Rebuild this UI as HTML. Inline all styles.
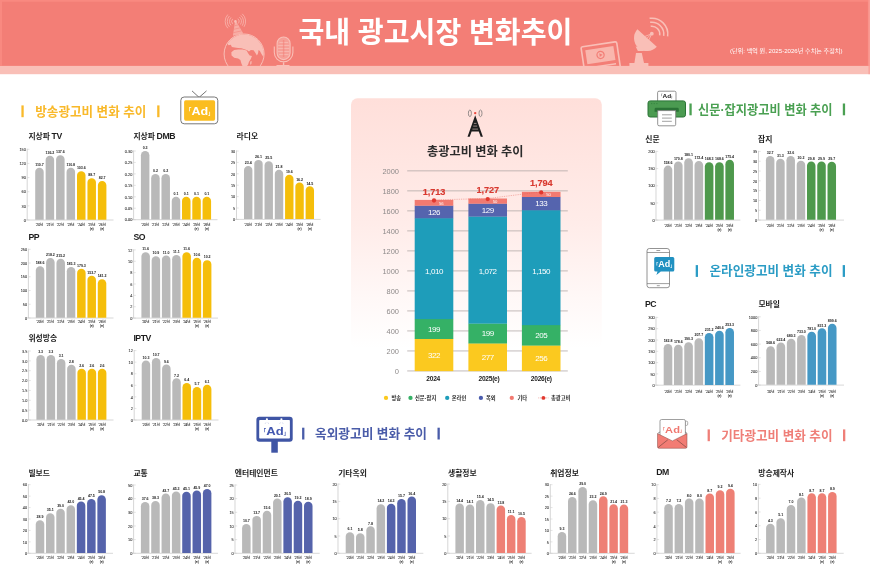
<!DOCTYPE html>
<html lang="ko">
<head>
<meta charset="utf-8">
<title>국내 광고시장 변화추이</title>
<style>
html,body{margin:0;padding:0;background:#fff;}
body{width:870px;height:574px;overflow:hidden;font-family:"Liberation Sans","Noto Sans CJK KR",sans-serif;}
svg{display:block;font-family:"Liberation Sans","Noto Sans CJK KR",sans-serif;}
.ct{font-size:7.8px;font-weight:700;fill:#1d1d1d;}
.ax{fill:none;stroke:#c4c4c4;stroke-width:.7;}
.bx{fill:none;stroke:#bdbdbd;stroke-width:.6;}
.tk{fill:none;stroke:#c8c8c8;stroke-width:.5;}
.yl{font-size:4.4px;fill:#222;stroke:#222;stroke-width:.05px;}
.vl{font-size:3.6px;font-weight:700;fill:#1a1a1a;text-anchor:middle;letter-spacing:-.05px;}
.xl{font-size:3.5px;fill:#1a1a1a;stroke:#1a1a1a;stroke-width:.06px;text-anchor:middle;letter-spacing:-.12px;}
.st{font-weight:700;}
</style>
</head>
<body>
<svg width="870" height="574" viewBox="0 0 870 574">
<defs>
<linearGradient id="pg" x1="0" y1="0" x2="0" y2="1">
<stop offset="0" stop-color="#ffdfda"/>
<stop offset="0.5" stop-color="#ffece9"/>
<stop offset="0.8" stop-color="#fff8f7"/>
<stop offset="1" stop-color="#ffffff"/>
</linearGradient>
</defs>
<rect width="870" height="574" fill="#fff"/>

<rect x="0" y="0" width="870" height="66" fill="#f37e76"/>
<rect x="0" y="65.9" width="870" height="8.3" fill="#f9bfb7"/>
<path d="M0 0H870V66H867.8V1.8H2V66H0z" fill="#f98980"/>
<rect x="868.4" y="0" width="1.6" height="74.2" fill="#f9a098" fill-opacity=".8"/>
<clipPath id="hc"><rect x="0" y="0" width="870" height="65.9"/></clipPath>
<g clip-path="url(#hc)">
<clipPath id="gc"><circle cx="244.1" cy="54" r="19.6"/></clipPath>
<circle cx="244.1" cy="54" r="20" fill="none" stroke="#f9bfb7" stroke-width="1"/>
<g fill="#f9bfb7" clip-path="url(#gc)">
<path d="M226.8 42.86 L229.07 38.9 L232.46 36.29 L237 34.7 L242.66 33.8 L248.33 34.25 L253.99 36.06 L258.53 39.01 L262.15 43.43 L264.19 48.53 L264.65 53.06 L263.29 56.69 L261.47 53.97 L259.89 51.02 L258.53 49.89 L258.07 53.29 L256.94 55.55 L255.13 52.61 L253.54 50.34 L250.82 49.89 L249.01 51.47 L247.2 50.34 L244.36 49.21 L241.53 48.3 L238.13 48.07 L234.73 47.39 L231.9 46.94 L230.76 44.67 L228.5 45.35z"/>
<path d="M231.33 52.15 L234.16 50.11 L238.13 49.43 L242.66 49.43 L246.63 50.57 L248.1 53.29 L249.69 55.55 L251.95 56.01 L250.82 58.95 L249.01 61.67 L248.1 64.39 L246.74 66.43 L242.66 66.43 L241.3 63.26 L240.4 60.08 L238.13 58.5 L234.16 57.82 L231.56 55.55z"/>
<path d="M250.37 61.56 L251.61 60.99 L251.39 63.94 L250.14 64.73z"/>
</g>
<path d="M235.07 21.1 L235.98 21.1 L243.34 33.57 L232.92 35.84z" fill="#f9bfb7" fill-opacity=".72"/>
<path d="M234.5 25.86 L237.9 24.96M233.94 29.26 L239.94 27.9M233.37 32.66 L241.76 30.85" stroke="#f37e76" stroke-width=".5" fill="none"/>
<circle cx="235.4" cy="21.4" r="1.3" fill="#f9bfb7"/>
<g fill="none" stroke="#f9bfb7" stroke-width="0.7">
<path d="M237.88 18.65A3.7 3.7 0 0 1 238.54 23.36"/>
<path d="M232.65 23.88A3.7 3.7 0 0 1 232.65 18.92"/>
<path d="M239.35 17.02A5.9 5.9 0 0 1 240.4 24.53"/>
<path d="M231.02 25.35A5.9 5.9 0 0 1 231.02 17.45"/>
<path d="M240.82 15.38A8.1 8.1 0 0 1 242.27 25.69"/>
<path d="M229.38 26.82A8.1 8.1 0 0 1 229.38 15.98"/>
<path d="M242.23 13.82A10.2 10.2 0 0 1 244.05 26.81"/>
<path d="M227.82 28.23A10.2 10.2 0 0 1 227.82 14.57"/>
</g>
<g fill="none" stroke="#f9bfb7" stroke-width="1.1">
<rect x="277.1" y="37" width="13" height="22.6" rx="6.5" fill="#f9bfb7" fill-opacity=".5"/>
<path d="M279.4 42.5h8.8M278.2 45.5h11.2M278.2 48.5h11.2M278.2 51.5h11.2M279 54.5h9.6" stroke-width=".7"/>
<path d="M283.6 40v17" stroke="#f37e76" stroke-opacity=".55" stroke-width="1.4"/>
<path d="M274.3 46.5v6a9.3 9.3 0 0 0 18.6 0V46.5"/>
<path d="M283.6 62.2v3.6M276.5 65.6h13" stroke-width="1.4"/>
</g>
<g transform="rotate(-8.5 600 54)" fill="none" stroke="#f9bfb7" stroke-width="1.6">
<rect x="582.2" y="44.2" width="36" height="30" rx="1.6"/>
<rect x="586" y="48" width="28.4" height="14.2" fill="#f9bfb7" fill-opacity=".85" stroke="none"/>
<circle cx="600.4" cy="55" r="3.6" stroke="#f37e76" stroke-width="1.2"/>
<path d="M599.4 53.1l3 1.9-3 1.9z" fill="#f37e76" stroke="none"/>
<path d="M586 66h28.4" stroke-width="1.4"/>
</g>
<g fill="#f9bfb7">
<path d="M637.4 29.2A12.8 12.8 0 0 0 656.8 46.8z"/>
<circle cx="651.8" cy="33.7" r="1.9"/>
<path d="M644 41l7.8-7.3M647 44l4.8-10.3M641 38l10.8-4.3" stroke="#f9bfb7" stroke-width=".8" fill="none"/>
<path d="M635.6 46.5l7.5 1 .8 3.5h-6z"/>
<path d="M636 53h5.8l2.2 10h4.4v4h-19v-4h5z"/>
</g>
<g fill="none" stroke="#f9bfb7" stroke-width="1.5">
<path d="M650.69 26.28A8 8 0 0 1 659.72 35.31"/>
<path d="M650.13 22.32A12 12 0 0 1 663.68 35.87"/>
<path d="M649.57 18.36A16 16 0 0 1 667.64 36.43"/>
</g>
</g>
<text x="298.4" y="43" fill="#fff" font-size="29" font-weight="700" textLength="274" lengthAdjust="spacingAndGlyphs">국내 광고시장 변화추이</text>
<text x="730" y="53.1" fill="#fff" font-size="5.6" textLength="112.5" lengthAdjust="spacingAndGlyphs">(단위: 백억 원, 2025-2026년 수치는 추정치)</text>
<rect x="351" y="98.3" width="250.8" height="250" rx="6.5" fill="url(#pg)"/>
<path d="M475.2 115.2L482.9 136.8H480.7L478.8 131.4H471.6L469.7 136.8H467.5z" fill="#1e1e1e"/>
<path d="M473.9 123.4h2.6M473.2 126.1h4M472.4 129.1h5.6" stroke="#fbdcd7" stroke-width=".55" fill="none"/>
<circle cx="475.2" cy="113.1" r="1.2" fill="#ec4a40"/>
<g fill="none" stroke="#6a6a6a" stroke-width=".7">
<ellipse cx="469.9" cy="113.3" rx="1.5" ry="3.3"/><ellipse cx="480.5" cy="113.3" rx="1.5" ry="3.3"/>
</g>
<text x="427" y="156.2" fill="#2b2b2b" font-size="12.5" font-weight="700" textLength="96.5" lengthAdjust="spacingAndGlyphs">총광고비 변화 추이</text>
<path d="M407.2 370.95H567.8" stroke="#b3aaa8" stroke-width=".8" fill="none"/>
<text x="394.8" y="373.95" font-size="7.9" fill="#8e8a8a" textLength="4.2" lengthAdjust="spacingAndGlyphs">0</text>
<path d="M407.2 350.94H567.8" stroke="#b3aaa8" stroke-width=".8" fill="none"/>
<text x="386.6" y="353.94" font-size="7.9" fill="#8e8a8a" textLength="12.4" lengthAdjust="spacingAndGlyphs">200</text>
<path d="M407.2 330.93H567.8" stroke="#b3aaa8" stroke-width=".8" fill="none"/>
<text x="386.6" y="333.93" font-size="7.9" fill="#8e8a8a" textLength="12.4" lengthAdjust="spacingAndGlyphs">400</text>
<path d="M407.2 310.92H567.8" stroke="#b3aaa8" stroke-width=".8" fill="none"/>
<text x="386.6" y="313.92" font-size="7.9" fill="#8e8a8a" textLength="12.4" lengthAdjust="spacingAndGlyphs">600</text>
<path d="M407.2 290.91H567.8" stroke="#b3aaa8" stroke-width=".8" fill="none"/>
<text x="386.6" y="293.91" font-size="7.9" fill="#8e8a8a" textLength="12.4" lengthAdjust="spacingAndGlyphs">800</text>
<path d="M407.2 270.9H567.8" stroke="#b3aaa8" stroke-width=".8" fill="none"/>
<text x="382.4" y="273.9" font-size="7.9" fill="#8e8a8a" textLength="16.6" lengthAdjust="spacingAndGlyphs">1000</text>
<path d="M407.2 250.89H567.8" stroke="#b3aaa8" stroke-width=".8" fill="none"/>
<text x="382.4" y="253.89" font-size="7.9" fill="#8e8a8a" textLength="16.6" lengthAdjust="spacingAndGlyphs">1200</text>
<path d="M407.2 230.88H567.8" stroke="#b3aaa8" stroke-width=".8" fill="none"/>
<text x="382.4" y="233.88" font-size="7.9" fill="#8e8a8a" textLength="16.6" lengthAdjust="spacingAndGlyphs">1400</text>
<path d="M407.2 210.87H567.8" stroke="#b3aaa8" stroke-width=".8" fill="none"/>
<text x="382.4" y="213.87" font-size="7.9" fill="#8e8a8a" textLength="16.6" lengthAdjust="spacingAndGlyphs">1600</text>
<path d="M407.2 190.86H567.8" stroke="#b3aaa8" stroke-width=".8" fill="none"/>
<text x="382.4" y="193.86" font-size="7.9" fill="#8e8a8a" textLength="16.6" lengthAdjust="spacingAndGlyphs">1800</text>
<path d="M407.2 170.85H567.8" stroke="#b3aaa8" stroke-width=".8" fill="none"/>
<text x="382.4" y="173.85" font-size="7.9" fill="#8e8a8a" textLength="16.6" lengthAdjust="spacingAndGlyphs">2000</text>
<rect x="414.7" y="338.8" width="38.6" height="32.35" fill="#fbc91f"/>
<rect x="414.7" y="318.93" width="38.6" height="20.07" fill="#35b166"/>
<rect x="414.7" y="218.08" width="38.6" height="101.05" fill="#1e9dba"/>
<rect x="414.7" y="205.5" width="38.6" height="12.78" fill="#5564ae"/>
<rect x="414.7" y="199.91" width="38.6" height="5.79" fill="#f27a71"/>
<text x="434" y="357.77" font-size="8" fill="#fff" text-anchor="middle" letter-spacing="-.45">322</text>
<text x="434" y="331.76" font-size="8" fill="#fff" text-anchor="middle" letter-spacing="-.45">199</text>
<text x="434" y="273.8" font-size="8" fill="#fff" text-anchor="middle" letter-spacing="-.45">1,010</text>
<text x="434" y="214.69" font-size="8" fill="#fff" text-anchor="middle" letter-spacing="-.45">126</text>
<text x="441.3" y="204.7" font-size="4.2" fill="#fff" text-anchor="middle">56</text>
<text x="433.2" y="381.4" font-size="6.6" font-weight="700" fill="#1c1c1c" text-anchor="middle" letter-spacing="-.25">2024</text>
<rect x="468.4" y="343.29" width="38.6" height="27.86" fill="#fbc91f"/>
<rect x="468.4" y="323.42" width="38.6" height="20.07" fill="#35b166"/>
<rect x="468.4" y="216.38" width="38.6" height="107.24" fill="#1e9dba"/>
<rect x="468.4" y="203.5" width="38.6" height="13.08" fill="#5564ae"/>
<rect x="468.4" y="198.51" width="38.6" height="5.19" fill="#f27a71"/>
<text x="487.7" y="360.02" font-size="8" fill="#fff" text-anchor="middle" letter-spacing="-.45">277</text>
<text x="487.7" y="336.26" font-size="8" fill="#fff" text-anchor="middle" letter-spacing="-.45">199</text>
<text x="487.7" y="273.8" font-size="8" fill="#fff" text-anchor="middle" letter-spacing="-.45">1,072</text>
<text x="487.7" y="212.84" font-size="8" fill="#fff" text-anchor="middle" letter-spacing="-.45">129</text>
<text x="495" y="203.01" font-size="4.2" fill="#fff" text-anchor="middle">50</text>
<text x="489" y="381.4" font-size="6.6" font-weight="700" fill="#1c1c1c" text-anchor="middle" letter-spacing="-.25">2025(e)</text>
<rect x="521.9" y="345.39" width="38.6" height="25.76" fill="#fbc91f"/>
<rect x="521.9" y="324.92" width="38.6" height="20.67" fill="#35b166"/>
<rect x="521.9" y="210.09" width="38.6" height="115.03" fill="#1e9dba"/>
<rect x="521.9" y="196.81" width="38.6" height="13.48" fill="#5564ae"/>
<rect x="521.9" y="191.82" width="38.6" height="5.19" fill="#f27a71"/>
<text x="541.2" y="361.07" font-size="8" fill="#fff" text-anchor="middle" letter-spacing="-.45">256</text>
<text x="541.2" y="338.05" font-size="8" fill="#fff" text-anchor="middle" letter-spacing="-.45">205</text>
<text x="541.2" y="273.8" font-size="8" fill="#fff" text-anchor="middle" letter-spacing="-.45">1,150</text>
<text x="541.2" y="206.35" font-size="8" fill="#fff" text-anchor="middle" letter-spacing="-.45">133</text>
<text x="548.5" y="196.32" font-size="4.2" fill="#fff" text-anchor="middle">50</text>
<text x="541.3" y="381.4" font-size="6.6" font-weight="700" fill="#1c1c1c" text-anchor="middle" letter-spacing="-.25">2026(e)</text>
<path d="M434 199.91L487.7 198.51L541.2 191.82" stroke="#e2574d" stroke-opacity=".75" stroke-width=".6" stroke-dasharray=".9 .9" fill="none"/>
<circle cx="434" cy="200.51" r="2.15" fill="#e2382e"/>
<text x="434" y="195" font-size="9.2" font-weight="700" fill="#d8382f" text-anchor="middle" letter-spacing="-.12" stroke="#d8382f" stroke-width=".15">1,713</text>
<circle cx="487.7" cy="199.11" r="2.15" fill="#e2382e"/>
<text x="487.7" y="193" font-size="9.2" font-weight="700" fill="#d8382f" text-anchor="middle" letter-spacing="-.12" stroke="#d8382f" stroke-width=".15">1,727</text>
<circle cx="541.2" cy="192.42" r="2.15" fill="#e2382e"/>
<text x="541.2" y="186" font-size="9.2" font-weight="700" fill="#d8382f" text-anchor="middle" letter-spacing="-.12" stroke="#d8382f" stroke-width=".15">1,794</text>
<circle cx="386" cy="397.9" r="2.15" fill="#fbc91f"/>
<text x="391.4" y="399.8" font-size="5.3" font-weight="700" fill="#2a2a2a">방송</text>
<circle cx="410.5" cy="397.9" r="2.15" fill="#35b166"/>
<text x="415" y="399.8" font-size="5.3" font-weight="700" fill="#2a2a2a">신문·잡지</text>
<circle cx="447.2" cy="397.9" r="2.15" fill="#1e9dba"/>
<text x="451.7" y="399.8" font-size="5.3" font-weight="700" fill="#2a2a2a">온라인</text>
<circle cx="480.9" cy="397.9" r="2.15" fill="#4a5cae"/>
<text x="485.9" y="399.8" font-size="5.3" font-weight="700" fill="#2a2a2a">옥외</text>
<circle cx="511.8" cy="397.9" r="2.15" fill="#f27a71"/>
<text x="517.5" y="399.8" font-size="5.3" font-weight="700" fill="#2a2a2a">기타</text>
<path d="M538.4 397.9h10" stroke="#e2574d" stroke-width=".6" stroke-dasharray=".8 .8"/>
<circle cx="543.4" cy="397.9" r="1.9" fill="#e2382e"/>
<text x="550.9" y="399.8" font-size="5.3" font-weight="700" fill="#2a2a2a">총광고비</text>
<rect x="21.4" y="105.4" width="2.3" height="11.8" fill="#f9b92a"/>
<rect x="157.2" y="105.4" width="2.3" height="11.8" fill="#f9b92a"/>
<text class="st" x="35.3" y="115.55" fill="#f9b92a" font-size="13" textLength="111" lengthAdjust="spacingAndGlyphs">방송광고비 변화 추이</text>
<rect x="689.4" y="103.5" width="2.3" height="11.8" fill="#4aa052"/>
<rect x="842.8" y="103.5" width="2.3" height="11.8" fill="#4aa052"/>
<text class="st" x="698" y="113.65" fill="#4aa052" font-size="13" textLength="134.5" lengthAdjust="spacingAndGlyphs">신문·잡지광고비 변화 추이</text>
<rect x="695.7" y="265.1" width="2.3" height="11.8" fill="#2b9cc5"/>
<rect x="842.7" y="265.1" width="2.3" height="11.8" fill="#2b9cc5"/>
<text class="st" x="709.5" y="275.25" fill="#2b9cc5" font-size="13" textLength="123" lengthAdjust="spacingAndGlyphs">온라인광고비 변화 추이</text>
<rect x="302.1" y="427.7" width="2.3" height="11.8" fill="#4a5ca9"/>
<rect x="437.5" y="427.7" width="2.3" height="11.8" fill="#4a5ca9"/>
<text class="st" x="315" y="437.85" fill="#4a5ca9" font-size="13" textLength="112" lengthAdjust="spacingAndGlyphs">옥외광고비 변화 추이</text>
<rect x="707.6" y="429.4" width="2.3" height="11.8" fill="#ef7f78"/>
<rect x="843" y="429.4" width="2.3" height="11.8" fill="#ef7f78"/>
<text class="st" x="721.3" y="439.55" fill="#ef7f78" font-size="13" textLength="111.2" lengthAdjust="spacingAndGlyphs">기타광고비 변화 추이</text>
<g>
<path d="M192 90.9l7.1 6.5 7.4-6.5" fill="none" stroke="#666" stroke-width=".9"/>
<rect x="180.8" y="97" width="37" height="26.8" rx="3.4" fill="#fff" stroke="#6a6a6a" stroke-width=".9"/>
<rect x="184.1" y="100.3" width="31" height="20.4" rx="1.6" fill="#fbbd1f"/>
<text x="191.49" y="114.8" font-weight="700" fill="#fff" font-size="10.5" textLength="16.74" lengthAdjust="spacingAndGlyphs">Ad</text>
<text x="188.39" y="112.41" font-weight="700" fill="#fff" font-size="5.67">｢</text>
<text x="207.98" y="114.59" font-weight="700" fill="#fff" font-size="5.67">｣</text>
</g>
<g>
<rect x="657.6" y="91.2" width="18.4" height="12" rx="1.4" fill="#fff" stroke="#777" stroke-width=".8"/>
<text x="662.64" y="98.1" font-weight="700" fill="#222" font-size="5.5" textLength="8.59" lengthAdjust="spacingAndGlyphs">Ad</text>
<text x="661.01" y="96.85" font-weight="700" fill="#222" font-size="2.97">｢</text>
<text x="671.1" y="97.99" font-weight="700" fill="#222" font-size="2.97">｣</text>
<rect x="648" y="100.9" width="37.5" height="16.1" rx="2.2" fill="#4b9b51" stroke="#2a7336" stroke-width="1"/>
<path d="M651 103.6h1.3M653.6 103.6h1.3M656.2 103.6h1.3" stroke="#2f7d3b" stroke-width=".7"/>
<path d="M654.6 111.8v-2.6a1.4 1.4 0 0 1 1.4-1.4h21.4a1.4 1.4 0 0 1 1.4 1.4v2.6z" fill="#2a7336"/>
<path d="M657.7 110.6h18v13.8a1.4 1.4 0 0 1-1.4 1.4h-15.2a1.4 1.4 0 0 1-1.4-1.4z" fill="#fff" stroke="#777" stroke-width=".8"/>
<path d="M662 114.8h9.8M662 118.1h9.8M662 121.3h9.8" stroke="#8a8a8a" stroke-width=".8"/>
</g>
<g>
<rect x="647" y="248.5" width="22.5" height="39.2" rx="2.4" fill="#fff" stroke="#777" stroke-width=".8"/>
<path d="M647 252.5h22.5M647 283.6h22.5" stroke="#777" stroke-width=".7"/>
<path d="M656.8 250.5h3M657.2 285.7h2.2" stroke="#777" stroke-width=".7" stroke-linecap="round"/>
<path d="M655.7 257.1h17.1a1.5 1.5 0 0 1 1.5 1.5v11.5a1.5 1.5 0 0 1-1.5 1.5h-12l-4.4 3.3 1.1-3.3h-1.8a1.5 1.5 0 0 1-1.5-1.5v-11.5a1.5 1.5 0 0 1 1.5-1.5z" fill="#2191c1"/>
<text x="658.37" y="267.4" font-weight="700" fill="#fff" font-size="8.2" textLength="12.02" lengthAdjust="spacingAndGlyphs">Ad</text>
<text x="655.94" y="265.53" font-weight="700" fill="#fff" font-size="4.43">｢</text>
<text x="670.25" y="267.24" font-weight="700" fill="#fff" font-size="4.43">｣</text>
</g>
<g>
<rect x="271.3" y="440" width="6.5" height="12.7" fill="#3f55a5"/>
<rect x="256.4" y="416.8" width="36.3" height="25" rx="3" fill="#3f55a5"/>
<rect x="259.2" y="419.9" width="30.7" height="18.7" rx=".8" fill="#fff"/>
<circle cx="266.9" cy="419.3" r="1.1" fill="#fff"/><circle cx="281.4" cy="419.3" r="1.1" fill="#fff"/>
<path d="M265 424l1-1.6M268.8 424l-1-1.6M279.5 424l1-1.6M283.3 424l-1-1.6" stroke="#b8bfe0" stroke-width=".5"/>
<text x="266.37" y="435.1" font-weight="700" fill="#4358b0" font-size="10.5" textLength="17.39" lengthAdjust="spacingAndGlyphs">Ad</text>
<text x="263.29" y="432.71" font-weight="700" fill="#4358b0" font-size="5.67">｢</text>
<text x="283.48" y="434.89" font-weight="700" fill="#4358b0" font-size="5.67">｣</text>
</g>
<g>
<path d="M685.2 421.2h1.3a1.2 1.2 0 0 1 1.2 1.2v1.8a1.2 1.2 0 0 1-1.2 1.2h-1.3z" fill="#fff" stroke="#888" stroke-width=".7"/>
<path d="M661.6 419.5h22.2a1.6 1.6 0 0 1 1.6 1.6v22h-25.4v-22a1.6 1.6 0 0 1 1.6-1.6z" fill="#fff" stroke="#888" stroke-width=".8"/>
<text x="665.12" y="432.6" font-weight="700" fill="#f0776f" font-size="9.1" textLength="14.81" lengthAdjust="spacingAndGlyphs">Ad</text>
<text x="662.44" y="430.53" font-weight="700" fill="#f0776f" font-size="4.91">｢</text>
<text x="679.7" y="432.42" font-weight="700" fill="#f0776f" font-size="4.91">｣</text>
<path d="M657.5 433.6l14.9 7.3 14.6-7.3v13.2a1.5 1.5 0 0 1-1.5 1.5h-26.5a1.5 1.5 0 0 1-1.5-1.5z" fill="#f27c74" stroke="#8a4a44" stroke-width=".5" stroke-linejoin="round"/>
<path d="M658.2 447.4l9.6-7.6M686.4 447.4l-9.6-7.6" stroke="#5a3a36" stroke-width=".55" fill="none"/>
<path d="M657.7 433.4l2.4-1.5M687.2 433.4l-2-1.4" stroke="#555" stroke-width=".6"/>
</g>
<g>
<text class="ct" x="28.4" y="139">지상파 <tspan font-size="8.7" letter-spacing="-.45" dx="-.5">TV</tspan></text>
<path class="ax" d="M27.2 148.7V220"/>
<path class="bx" d="M25.7 220H113.5"/>
<path class="tk" d="M27.2 220h2.2M27.2 205.86h2.2M27.2 191.72h2.2M27.2 177.58h2.2M27.2 163.44h2.2M27.2 149.3h2.2"/>
<text class="yl" x="23.75" y="221.7" textLength="2.15" lengthAdjust="spacingAndGlyphs">0</text>
<text class="yl" x="21.59" y="207.56" textLength="4.31" lengthAdjust="spacingAndGlyphs">30</text>
<text class="yl" x="21.59" y="193.42" textLength="4.31" lengthAdjust="spacingAndGlyphs">60</text>
<text class="yl" x="21.59" y="179.28" textLength="4.31" lengthAdjust="spacingAndGlyphs">90</text>
<text class="yl" x="19.44" y="165.14" textLength="6.46" lengthAdjust="spacingAndGlyphs">120</text>
<text class="yl" x="19.44" y="151" textLength="6.46" lengthAdjust="spacingAndGlyphs">150</text>
<path fill="#b9b9b9" d="M35.2 219.7V172.07a4.25 4.25 0 0 1 8.5 0V219.7z"/>
<text class="vl" x="39.45" y="166.02">110.7</text>
<text class="xl" x="39.45" y="226">'20년</text>
<path fill="#b9b9b9" d="M45.65 219.7V160.05a4.25 4.25 0 0 1 8.5 0V219.7z"/>
<text class="vl" x="49.9" y="154">136.2</text>
<text class="xl" x="49.9" y="226">'21년</text>
<path fill="#b9b9b9" d="M56.1 219.7V159.39a4.25 4.25 0 0 1 8.5 0V219.7z"/>
<text class="vl" x="60.35" y="153.34">137.6</text>
<text class="xl" x="60.35" y="226">'22년</text>
<path fill="#b9b9b9" d="M66.55 219.7V172.03a4.25 4.25 0 0 1 8.5 0V219.7z"/>
<text class="vl" x="70.8" y="165.98">110.8</text>
<text class="xl" x="70.8" y="226">'23년</text>
<path fill="#f5be0a" d="M77 219.7V175.42a4.25 4.25 0 0 1 8.5 0V219.7z"/>
<text class="vl" x="81.25" y="169.37">103.6</text>
<text class="xl" x="81.25" y="226">'24년</text>
<path fill="#f5be0a" d="M87.45 219.7V182.44a4.25 4.25 0 0 1 8.5 0V219.7z"/>
<text class="vl" x="91.7" y="176.39">88.7</text>
<text class="xl" x="91.7" y="226">'25년</text>
<text class="xl" x="91.7" y="230.2">(e)</text>
<path fill="#f5be0a" d="M97.9 219.7V185.27a4.25 4.25 0 0 1 8.5 0V219.7z"/>
<text class="vl" x="102.15" y="179.22">82.7</text>
<text class="xl" x="102.15" y="226">'26년</text>
<text class="xl" x="102.15" y="230.2">(e)</text>
</g>
<g>
<text class="ct" x="133.4" y="139">지상파 <tspan font-size="8.7" letter-spacing="-.45" dx="-.5">DMB</tspan></text>
<path class="ax" d="M133.6 150.4V219.7"/>
<path class="bx" d="M132.1 219.7H217.5"/>
<path class="tk" d="M133.6 219.7h2.2M133.6 208.25h2.2M133.6 196.8h2.2M133.6 185.35h2.2M133.6 173.9h2.2M133.6 162.45h2.2M133.6 151h2.2"/>
<text class="yl" x="124.77" y="221.4" textLength="7.53" lengthAdjust="spacingAndGlyphs">0.00</text>
<text class="yl" x="124.77" y="209.95" textLength="7.53" lengthAdjust="spacingAndGlyphs">0.05</text>
<text class="yl" x="124.77" y="198.5" textLength="7.53" lengthAdjust="spacingAndGlyphs">0.10</text>
<text class="yl" x="124.77" y="187.05" textLength="7.53" lengthAdjust="spacingAndGlyphs">0.15</text>
<text class="yl" x="124.77" y="175.6" textLength="7.53" lengthAdjust="spacingAndGlyphs">0.20</text>
<text class="yl" x="124.77" y="164.15" textLength="7.53" lengthAdjust="spacingAndGlyphs">0.25</text>
<text class="yl" x="124.77" y="152.7" textLength="7.53" lengthAdjust="spacingAndGlyphs">0.30</text>
<path fill="#b9b9b9" d="M140.9 219.4V155.25a4.25 4.25 0 0 1 8.5 0V219.4z"/>
<text class="vl" x="145.15" y="149.2">0.3</text>
<text class="xl" x="145.15" y="226">'20년</text>
<path fill="#b9b9b9" d="M151.18 219.4V178.15a4.25 4.25 0 0 1 8.5 0V219.4z"/>
<text class="vl" x="155.43" y="172.1">0.2</text>
<text class="xl" x="155.43" y="226">'21년</text>
<path fill="#b9b9b9" d="M161.46 219.4V178.15a4.25 4.25 0 0 1 8.5 0V219.4z"/>
<text class="vl" x="165.71" y="172.1">0.2</text>
<text class="xl" x="165.71" y="226">'22년</text>
<path fill="#b9b9b9" d="M171.74 219.4V201.05a4.25 4.25 0 0 1 8.5 0V219.4z"/>
<text class="vl" x="175.99" y="195">0.1</text>
<text class="xl" x="175.99" y="226">'23년</text>
<path fill="#f5be0a" d="M182.02 219.4V201.05a4.25 4.25 0 0 1 8.5 0V219.4z"/>
<text class="vl" x="186.27" y="195">0.1</text>
<text class="xl" x="186.27" y="226">'24년</text>
<path fill="#f5be0a" d="M192.3 219.4V201.05a4.25 4.25 0 0 1 8.5 0V219.4z"/>
<text class="vl" x="196.55" y="195">0.1</text>
<text class="xl" x="196.55" y="226">'25년</text>
<text class="xl" x="196.55" y="230.2">(e)</text>
<path fill="#f5be0a" d="M202.58 219.4V201.05a4.25 4.25 0 0 1 8.5 0V219.4z"/>
<text class="vl" x="206.83" y="195">0.1</text>
<text class="xl" x="206.83" y="226">'26년</text>
<text class="xl" x="206.83" y="230.2">(e)</text>
</g>
<g>
<text class="ct" x="236.6" y="139">라디오</text>
<path class="ax" d="M236.5 150.4V219.4"/>
<path class="bx" d="M235 219.4H320.6"/>
<path class="tk" d="M236.5 219.4h2.2M236.5 208h2.2M236.5 196.6h2.2M236.5 185.2h2.2M236.5 173.8h2.2M236.5 162.4h2.2M236.5 151h2.2"/>
<text class="yl" x="233.05" y="221.1" textLength="2.15" lengthAdjust="spacingAndGlyphs">0</text>
<text class="yl" x="233.05" y="209.7" textLength="2.15" lengthAdjust="spacingAndGlyphs">5</text>
<text class="yl" x="230.89" y="198.3" textLength="4.31" lengthAdjust="spacingAndGlyphs">10</text>
<text class="yl" x="230.89" y="186.9" textLength="4.31" lengthAdjust="spacingAndGlyphs">15</text>
<text class="yl" x="230.89" y="175.5" textLength="4.31" lengthAdjust="spacingAndGlyphs">20</text>
<text class="yl" x="230.89" y="164.1" textLength="4.31" lengthAdjust="spacingAndGlyphs">25</text>
<text class="yl" x="230.89" y="152.7" textLength="4.31" lengthAdjust="spacingAndGlyphs">30</text>
<path fill="#b9b9b9" d="M244 219.1V170.25a4.2 4.2 0 0 1 8.4 0V219.1z"/>
<text class="vl" x="248.2" y="164.25">23.4</text>
<text class="xl" x="248.2" y="226">'20년</text>
<path fill="#b9b9b9" d="M254.27 219.1V164.09a4.2 4.2 0 0 1 8.4 0V219.1z"/>
<text class="vl" x="258.47" y="158.09">26.1</text>
<text class="xl" x="258.47" y="226">'21년</text>
<path fill="#b9b9b9" d="M264.54 219.1V165.46a4.2 4.2 0 0 1 8.4 0V219.1z"/>
<text class="vl" x="268.74" y="159.46">25.5</text>
<text class="xl" x="268.74" y="226">'22년</text>
<path fill="#b9b9b9" d="M274.81 219.1V173.9a4.2 4.2 0 0 1 8.4 0V219.1z"/>
<text class="vl" x="279.01" y="167.9">21.8</text>
<text class="xl" x="279.01" y="226">'23년</text>
<path fill="#f5be0a" d="M285.08 219.1V178.91a4.2 4.2 0 0 1 8.4 0V219.1z"/>
<text class="vl" x="289.28" y="172.91">19.6</text>
<text class="xl" x="289.28" y="226">'24년</text>
<path fill="#f5be0a" d="M295.35 219.1V186.66a4.2 4.2 0 0 1 8.4 0V219.1z"/>
<text class="vl" x="299.55" y="180.66">16.2</text>
<text class="xl" x="299.55" y="226">'25년</text>
<text class="xl" x="299.55" y="230.2">(e)</text>
<path fill="#f5be0a" d="M305.62 219.1V190.54a4.2 4.2 0 0 1 8.4 0V219.1z"/>
<text class="vl" x="309.82" y="184.54">14.5</text>
<text class="xl" x="309.82" y="226">'26년</text>
<text class="xl" x="309.82" y="230.2">(e)</text>
</g>
<g>
<text class="ct" x="28.4" y="240"><tspan font-size="8.7" letter-spacing="-.45">PP</tspan></text>
<path class="ax" d="M28.4 248.7V318"/>
<path class="bx" d="M26.9 318H113.5"/>
<path class="tk" d="M28.4 318h2.2M28.4 304.26h2.2M28.4 290.52h2.2M28.4 276.78h2.2M28.4 263.04h2.2M28.4 249.3h2.2"/>
<text class="yl" x="24.95" y="319.7" textLength="2.15" lengthAdjust="spacingAndGlyphs">0</text>
<text class="yl" x="22.79" y="305.96" textLength="4.31" lengthAdjust="spacingAndGlyphs">50</text>
<text class="yl" x="20.64" y="292.22" textLength="6.46" lengthAdjust="spacingAndGlyphs">100</text>
<text class="yl" x="20.64" y="278.48" textLength="6.46" lengthAdjust="spacingAndGlyphs">150</text>
<text class="yl" x="20.64" y="264.74" textLength="6.46" lengthAdjust="spacingAndGlyphs">200</text>
<text class="yl" x="20.64" y="251" textLength="6.46" lengthAdjust="spacingAndGlyphs">250</text>
<path fill="#b9b9b9" d="M35.8 317.7V270.42a4.25 4.25 0 0 1 8.5 0V317.7z"/>
<text class="vl" x="40.05" y="264.37">188.6</text>
<text class="xl" x="40.05" y="323">'20년</text>
<path fill="#b9b9b9" d="M46.13 317.7V262.29a4.25 4.25 0 0 1 8.5 0V317.7z"/>
<text class="vl" x="50.38" y="256.24">218.2</text>
<text class="xl" x="50.38" y="323">'21년</text>
<path fill="#b9b9b9" d="M56.46 317.7V263.11a4.25 4.25 0 0 1 8.5 0V317.7z"/>
<text class="vl" x="60.71" y="257.06">215.2</text>
<text class="xl" x="60.71" y="323">'22년</text>
<path fill="#b9b9b9" d="M66.79 317.7V271.33a4.25 4.25 0 0 1 8.5 0V317.7z"/>
<text class="vl" x="71.04" y="265.28">185.3</text>
<text class="xl" x="71.04" y="323">'23년</text>
<path fill="#f5be0a" d="M77.12 317.7V272.98a4.25 4.25 0 0 1 8.5 0V317.7z"/>
<text class="vl" x="81.37" y="266.93">179.3</text>
<text class="xl" x="81.37" y="323">'24년</text>
<path fill="#f5be0a" d="M87.45 317.7V280.01a4.25 4.25 0 0 1 8.5 0V317.7z"/>
<text class="vl" x="91.7" y="273.96">153.7</text>
<text class="xl" x="91.7" y="323">'25년</text>
<text class="xl" x="91.7" y="327.2">(e)</text>
<path fill="#f5be0a" d="M97.78 317.7V283.45a4.25 4.25 0 0 1 8.5 0V317.7z"/>
<text class="vl" x="102.03" y="277.4">141.2</text>
<text class="xl" x="102.03" y="323">'26년</text>
<text class="xl" x="102.03" y="327.2">(e)</text>
</g>
<g>
<text class="ct" x="133.4" y="240"><tspan font-size="8.7" letter-spacing="-.45">SO</tspan></text>
<path class="ax" d="M133.6 249.3V318.1"/>
<path class="bx" d="M132.1 318.1H218"/>
<path class="tk" d="M133.6 318.1h2.2M133.6 306.73h2.2M133.6 295.37h2.2M133.6 284h2.2M133.6 272.63h2.2M133.6 261.27h2.2M133.6 249.9h2.2"/>
<text class="yl" x="130.15" y="319.8" textLength="2.15" lengthAdjust="spacingAndGlyphs">0</text>
<text class="yl" x="130.15" y="308.43" textLength="2.15" lengthAdjust="spacingAndGlyphs">2</text>
<text class="yl" x="130.15" y="297.07" textLength="2.15" lengthAdjust="spacingAndGlyphs">4</text>
<text class="yl" x="130.15" y="285.7" textLength="2.15" lengthAdjust="spacingAndGlyphs">6</text>
<text class="yl" x="130.15" y="274.33" textLength="2.15" lengthAdjust="spacingAndGlyphs">8</text>
<text class="yl" x="127.99" y="262.97" textLength="4.31" lengthAdjust="spacingAndGlyphs">10</text>
<text class="yl" x="127.99" y="251.6" textLength="4.31" lengthAdjust="spacingAndGlyphs">12</text>
<path fill="#b9b9b9" d="M141.4 317.8V256.42a4.25 4.25 0 0 1 8.5 0V317.8z"/>
<text class="vl" x="145.65" y="250.37">11.6</text>
<text class="xl" x="145.65" y="323">'20년</text>
<path fill="#b9b9b9" d="M151.65 317.8V260.4a4.25 4.25 0 0 1 8.5 0V317.8z"/>
<text class="vl" x="155.9" y="254.35">10.9</text>
<text class="xl" x="155.9" y="323">'21년</text>
<path fill="#b9b9b9" d="M161.9 317.8V259.83a4.25 4.25 0 0 1 8.5 0V317.8z"/>
<text class="vl" x="166.15" y="253.78">11.0</text>
<text class="xl" x="166.15" y="323">'22년</text>
<path fill="#b9b9b9" d="M172.15 317.8V259.26a4.25 4.25 0 0 1 8.5 0V317.8z"/>
<text class="vl" x="176.4" y="253.22">11.1</text>
<text class="xl" x="176.4" y="323">'23년</text>
<path fill="#f5be0a" d="M182.4 317.8V256.42a4.25 4.25 0 0 1 8.5 0V317.8z"/>
<text class="vl" x="186.65" y="250.37">11.6</text>
<text class="xl" x="186.65" y="323">'24년</text>
<path fill="#f5be0a" d="M192.65 317.8V262.11a4.25 4.25 0 0 1 8.5 0V317.8z"/>
<text class="vl" x="196.9" y="256.06">10.6</text>
<text class="xl" x="196.9" y="323">'25년</text>
<text class="xl" x="196.9" y="327.2">(e)</text>
<path fill="#f5be0a" d="M202.9 317.8V264.38a4.25 4.25 0 0 1 8.5 0V317.8z"/>
<text class="vl" x="207.15" y="258.33">10.2</text>
<text class="xl" x="207.15" y="323">'26년</text>
<text class="xl" x="207.15" y="327.2">(e)</text>
</g>
<g>
<text class="ct" x="28.4" y="341">위성방송</text>
<path class="ax" d="M28.6 350.4V420"/>
<path class="bx" d="M27.1 420H113.5"/>
<path class="tk" d="M28.6 420h2.2M28.6 410.14h2.2M28.6 400.29h2.2M28.6 390.43h2.2M28.6 380.57h2.2M28.6 370.71h2.2M28.6 360.86h2.2M28.6 351h2.2"/>
<text class="yl" x="21.92" y="421.7" textLength="5.38" lengthAdjust="spacingAndGlyphs">0.0</text>
<text class="yl" x="21.92" y="411.84" textLength="5.38" lengthAdjust="spacingAndGlyphs">0.5</text>
<text class="yl" x="21.92" y="401.99" textLength="5.38" lengthAdjust="spacingAndGlyphs">1.0</text>
<text class="yl" x="21.92" y="392.13" textLength="5.38" lengthAdjust="spacingAndGlyphs">1.5</text>
<text class="yl" x="21.92" y="382.27" textLength="5.38" lengthAdjust="spacingAndGlyphs">2.0</text>
<text class="yl" x="21.92" y="372.41" textLength="5.38" lengthAdjust="spacingAndGlyphs">2.5</text>
<text class="yl" x="21.92" y="362.56" textLength="5.38" lengthAdjust="spacingAndGlyphs">3.0</text>
<text class="yl" x="21.92" y="352.7" textLength="5.38" lengthAdjust="spacingAndGlyphs">3.5</text>
<path fill="#b9b9b9" d="M36.4 419.7V359.19a4.25 4.25 0 0 1 8.5 0V419.7z"/>
<text class="vl" x="40.65" y="353.14">3.3</text>
<text class="xl" x="40.65" y="426">'20년</text>
<path fill="#b9b9b9" d="M46.65 419.7V359.19a4.25 4.25 0 0 1 8.5 0V419.7z"/>
<text class="vl" x="50.9" y="353.14">3.3</text>
<text class="xl" x="50.9" y="426">'21년</text>
<path fill="#b9b9b9" d="M56.9 419.7V363.14a4.25 4.25 0 0 1 8.5 0V419.7z"/>
<text class="vl" x="61.15" y="357.09">3.1</text>
<text class="xl" x="61.15" y="426">'22년</text>
<path fill="#b9b9b9" d="M67.15 419.7V369.05a4.25 4.25 0 0 1 8.5 0V419.7z"/>
<text class="vl" x="71.4" y="363">2.8</text>
<text class="xl" x="71.4" y="426">'23년</text>
<path fill="#f5be0a" d="M77.4 419.7V372.99a4.25 4.25 0 0 1 8.5 0V419.7z"/>
<text class="vl" x="81.65" y="366.94">2.6</text>
<text class="xl" x="81.65" y="426">'24년</text>
<path fill="#f5be0a" d="M87.65 419.7V372.99a4.25 4.25 0 0 1 8.5 0V419.7z"/>
<text class="vl" x="91.9" y="366.94">2.6</text>
<text class="xl" x="91.9" y="426">'25년</text>
<text class="xl" x="91.9" y="430.2">(e)</text>
<path fill="#f5be0a" d="M97.9 419.7V372.99a4.25 4.25 0 0 1 8.5 0V419.7z"/>
<text class="vl" x="102.15" y="366.94">2.6</text>
<text class="xl" x="102.15" y="426">'26년</text>
<text class="xl" x="102.15" y="430.2">(e)</text>
</g>
<g>
<text class="ct" x="133.4" y="341"><tspan font-size="8.7" letter-spacing="-.45">IPTV</tspan></text>
<path class="ax" d="M134.2 350V420"/>
<path class="bx" d="M132.7 420H218.5"/>
<path class="tk" d="M134.2 420h2.2M134.2 408.43h2.2M134.2 396.87h2.2M134.2 385.3h2.2M134.2 373.73h2.2M134.2 362.17h2.2M134.2 350.6h2.2"/>
<text class="yl" x="130.75" y="421.7" textLength="2.15" lengthAdjust="spacingAndGlyphs">0</text>
<text class="yl" x="130.75" y="410.13" textLength="2.15" lengthAdjust="spacingAndGlyphs">2</text>
<text class="yl" x="130.75" y="398.57" textLength="2.15" lengthAdjust="spacingAndGlyphs">4</text>
<text class="yl" x="130.75" y="387" textLength="2.15" lengthAdjust="spacingAndGlyphs">6</text>
<text class="yl" x="130.75" y="375.43" textLength="2.15" lengthAdjust="spacingAndGlyphs">8</text>
<text class="yl" x="128.59" y="363.87" textLength="4.31" lengthAdjust="spacingAndGlyphs">10</text>
<text class="yl" x="128.59" y="352.3" textLength="4.31" lengthAdjust="spacingAndGlyphs">12</text>
<path fill="#b9b9b9" d="M141.7 419.7V364.68a4.25 4.25 0 0 1 8.5 0V419.7z"/>
<text class="vl" x="145.95" y="358.63">10.3</text>
<text class="xl" x="145.95" y="426">'20년</text>
<path fill="#b9b9b9" d="M151.9 419.7V362.37a4.25 4.25 0 0 1 8.5 0V419.7z"/>
<text class="vl" x="156.15" y="356.32">10.7</text>
<text class="xl" x="156.15" y="426">'21년</text>
<path fill="#b9b9b9" d="M162.1 419.7V368.73a4.25 4.25 0 0 1 8.5 0V419.7z"/>
<text class="vl" x="166.35" y="362.68">9.6</text>
<text class="xl" x="166.35" y="426">'22년</text>
<path fill="#b9b9b9" d="M172.3 419.7V382.61a4.25 4.25 0 0 1 8.5 0V419.7z"/>
<text class="vl" x="176.55" y="376.56">7.2</text>
<text class="xl" x="176.55" y="426">'23년</text>
<path fill="#f5be0a" d="M182.5 419.7V387.24a4.25 4.25 0 0 1 8.5 0V419.7z"/>
<text class="vl" x="186.75" y="381.19">6.4</text>
<text class="xl" x="186.75" y="426">'24년</text>
<path fill="#f5be0a" d="M192.7 419.7V391.29a4.25 4.25 0 0 1 8.5 0V419.7z"/>
<text class="vl" x="196.95" y="385.24">5.7</text>
<text class="xl" x="196.95" y="426">'25년</text>
<text class="xl" x="196.95" y="430.2">(e)</text>
<path fill="#f5be0a" d="M202.9 419.7V388.97a4.25 4.25 0 0 1 8.5 0V419.7z"/>
<text class="vl" x="207.15" y="382.92">6.1</text>
<text class="xl" x="207.15" y="426">'26년</text>
<text class="xl" x="207.15" y="430.2">(e)</text>
</g>
<g>
<text class="ct" x="645.3" y="142">신문</text>
<path class="ax" d="M656 150.8V220.1"/>
<path class="bx" d="M654.5 220.1H740.4"/>
<path class="tk" d="M656 220.1h2.2M656 202.93h2.2M656 185.75h2.2M656 168.58h2.2M656 151.4h2.2"/>
<text class="yl" x="652.55" y="221.8" textLength="2.15" lengthAdjust="spacingAndGlyphs">0</text>
<text class="yl" x="650.39" y="204.62" textLength="4.31" lengthAdjust="spacingAndGlyphs">50</text>
<text class="yl" x="648.24" y="187.45" textLength="6.46" lengthAdjust="spacingAndGlyphs">100</text>
<text class="yl" x="648.24" y="170.28" textLength="6.46" lengthAdjust="spacingAndGlyphs">150</text>
<text class="yl" x="648.24" y="153.1" textLength="6.46" lengthAdjust="spacingAndGlyphs">200</text>
<path fill="#b9b9b9" d="M663.7 219.8V169.92a4.3 4.3 0 0 1 8.6 0V219.8z"/>
<text class="vl" x="668" y="163.82">158.6</text>
<text class="xl" x="668" y="227">'20년</text>
<path fill="#b9b9b9" d="M673.98 219.8V165.73a4.3 4.3 0 0 1 8.6 0V219.8z"/>
<text class="vl" x="678.28" y="159.63">170.8</text>
<text class="xl" x="678.28" y="227">'21년</text>
<path fill="#b9b9b9" d="M684.26 219.8V162.54a4.3 4.3 0 0 1 8.6 0V219.8z"/>
<text class="vl" x="688.56" y="156.44">180.1</text>
<text class="xl" x="688.56" y="227">'22년</text>
<path fill="#b9b9b9" d="M694.54 219.8V165.18a4.3 4.3 0 0 1 8.6 0V219.8z"/>
<text class="vl" x="698.84" y="159.08">172.4</text>
<text class="xl" x="698.84" y="227">'23년</text>
<path fill="#4e994c" d="M704.82 219.8V166.59a4.3 4.3 0 0 1 8.6 0V219.8z"/>
<text class="vl" x="709.12" y="160.49">168.3</text>
<text class="xl" x="709.12" y="227">'24년</text>
<path fill="#4e994c" d="M715.1 219.8V166.49a4.3 4.3 0 0 1 8.6 0V219.8z"/>
<text class="vl" x="719.4" y="160.39">168.6</text>
<text class="xl" x="719.4" y="227">'25년</text>
<text class="xl" x="719.4" y="231.2">(e)</text>
<path fill="#4e994c" d="M725.38 219.8V164.15a4.3 4.3 0 0 1 8.6 0V219.8z"/>
<text class="vl" x="729.68" y="158.05">175.4</text>
<text class="xl" x="729.68" y="227">'26년</text>
<text class="xl" x="729.68" y="231.2">(e)</text>
</g>
<g>
<text class="ct" x="758" y="142">잡지</text>
<path class="ax" d="M758.5 150.8V220.1"/>
<path class="bx" d="M757 220.1H844"/>
<path class="tk" d="M758.5 220.1h2.2M758.5 210.29h2.2M758.5 200.47h2.2M758.5 190.66h2.2M758.5 180.84h2.2M758.5 171.03h2.2M758.5 161.21h2.2M758.5 151.4h2.2"/>
<text class="yl" x="755.05" y="221.8" textLength="2.15" lengthAdjust="spacingAndGlyphs">0</text>
<text class="yl" x="755.05" y="211.99" textLength="2.15" lengthAdjust="spacingAndGlyphs">5</text>
<text class="yl" x="752.89" y="202.17" textLength="4.31" lengthAdjust="spacingAndGlyphs">10</text>
<text class="yl" x="752.89" y="192.36" textLength="4.31" lengthAdjust="spacingAndGlyphs">15</text>
<text class="yl" x="752.89" y="182.54" textLength="4.31" lengthAdjust="spacingAndGlyphs">20</text>
<text class="yl" x="752.89" y="172.73" textLength="4.31" lengthAdjust="spacingAndGlyphs">25</text>
<text class="yl" x="752.89" y="162.91" textLength="4.31" lengthAdjust="spacingAndGlyphs">30</text>
<text class="yl" x="752.89" y="153.1" textLength="4.31" lengthAdjust="spacingAndGlyphs">35</text>
<path fill="#b9b9b9" d="M765.9 219.8V160.16a4.25 4.25 0 0 1 8.5 0V219.8z"/>
<text class="vl" x="770.15" y="154.11">32.7</text>
<text class="xl" x="770.15" y="227">'20년</text>
<path fill="#b9b9b9" d="M776.17 219.8V162.91a4.25 4.25 0 0 1 8.5 0V219.8z"/>
<text class="vl" x="780.42" y="156.86">31.3</text>
<text class="xl" x="780.42" y="227">'21년</text>
<path fill="#b9b9b9" d="M786.44 219.8V160.36a4.25 4.25 0 0 1 8.5 0V219.8z"/>
<text class="vl" x="790.69" y="154.31">32.6</text>
<text class="xl" x="790.69" y="227">'22년</text>
<path fill="#b9b9b9" d="M796.71 219.8V165.07a4.25 4.25 0 0 1 8.5 0V219.8z"/>
<text class="vl" x="800.96" y="159.02">30.2</text>
<text class="xl" x="800.96" y="227">'23년</text>
<path fill="#4e994c" d="M806.98 219.8V165.86a4.25 4.25 0 0 1 8.5 0V219.8z"/>
<text class="vl" x="811.23" y="159.81">29.8</text>
<text class="xl" x="811.23" y="227">'24년</text>
<path fill="#4e994c" d="M817.25 219.8V165.66a4.25 4.25 0 0 1 8.5 0V219.8z"/>
<text class="vl" x="821.5" y="159.61">29.9</text>
<text class="xl" x="821.5" y="227">'25년</text>
<text class="xl" x="821.5" y="231.2">(e)</text>
<path fill="#4e994c" d="M827.52 219.8V166.05a4.25 4.25 0 0 1 8.5 0V219.8z"/>
<text class="vl" x="831.77" y="160">29.7</text>
<text class="xl" x="831.77" y="227">'26년</text>
<text class="xl" x="831.77" y="231.2">(e)</text>
</g>
<g>
<text class="ct" x="645" y="307"><tspan font-size="8.7" letter-spacing="-.45">PC</tspan></text>
<path class="ax" d="M656 316.8V385.2"/>
<path class="bx" d="M654.5 385.2H740.4"/>
<path class="tk" d="M656 385.2h2.2M656 373.9h2.2M656 362.6h2.2M656 351.3h2.2M656 340h2.2M656 328.7h2.2M656 317.4h2.2"/>
<text class="yl" x="652.55" y="386.9" textLength="2.15" lengthAdjust="spacingAndGlyphs">0</text>
<text class="yl" x="650.39" y="375.6" textLength="4.31" lengthAdjust="spacingAndGlyphs">50</text>
<text class="yl" x="648.24" y="364.3" textLength="6.46" lengthAdjust="spacingAndGlyphs">100</text>
<text class="yl" x="648.24" y="353" textLength="6.46" lengthAdjust="spacingAndGlyphs">150</text>
<text class="yl" x="648.24" y="341.7" textLength="6.46" lengthAdjust="spacingAndGlyphs">200</text>
<text class="yl" x="648.24" y="330.4" textLength="6.46" lengthAdjust="spacingAndGlyphs">250</text>
<text class="yl" x="648.24" y="319.1" textLength="6.46" lengthAdjust="spacingAndGlyphs">300</text>
<path fill="#b9b9b9" d="M663.7 384.9V348.19a4.3 4.3 0 0 1 8.6 0V384.9z"/>
<text class="vl" x="668" y="342.09">182.8</text>
<text class="xl" x="668" y="393">'20년</text>
<path fill="#b9b9b9" d="M673.98 384.9V349.14a4.3 4.3 0 0 1 8.6 0V384.9z"/>
<text class="vl" x="678.28" y="343.04">178.6</text>
<text class="xl" x="678.28" y="393">'21년</text>
<path fill="#b9b9b9" d="M684.26 384.9V346.49a4.3 4.3 0 0 1 8.6 0V384.9z"/>
<text class="vl" x="688.56" y="340.39">190.3</text>
<text class="xl" x="688.56" y="393">'22년</text>
<path fill="#b9b9b9" d="M694.54 384.9V342.56a4.3 4.3 0 0 1 8.6 0V384.9z"/>
<text class="vl" x="698.84" y="336.46">207.7</text>
<text class="xl" x="698.84" y="393">'23년</text>
<path fill="#4598c5" d="M704.82 384.9V337.25a4.3 4.3 0 0 1 8.6 0V384.9z"/>
<text class="vl" x="709.12" y="331.15">231.2</text>
<text class="xl" x="709.12" y="393">'24년</text>
<path fill="#4598c5" d="M715.1 384.9V335.12a4.3 4.3 0 0 1 8.6 0V384.9z"/>
<text class="vl" x="719.4" y="329.02">240.6</text>
<text class="xl" x="719.4" y="393">'25년</text>
<text class="xl" x="719.4" y="397.2">(e)</text>
<path fill="#4598c5" d="M725.38 384.9V332.25a4.3 4.3 0 0 1 8.6 0V384.9z"/>
<text class="vl" x="729.68" y="326.15">253.3</text>
<text class="xl" x="729.68" y="393">'26년</text>
<text class="xl" x="729.68" y="397.2">(e)</text>
</g>
<g>
<text class="ct" x="758.4" y="307">모바일</text>
<path class="ax" d="M758.6 316.2V385.1"/>
<path class="bx" d="M757.1 385.1H844"/>
<path class="tk" d="M758.6 385.1h2.2M758.6 371.44h2.2M758.6 357.78h2.2M758.6 344.12h2.2M758.6 330.46h2.2M758.6 316.8h2.2"/>
<text class="yl" x="755.15" y="386.8" textLength="2.15" lengthAdjust="spacingAndGlyphs">0</text>
<text class="yl" x="750.84" y="373.14" textLength="6.46" lengthAdjust="spacingAndGlyphs">200</text>
<text class="yl" x="750.84" y="359.48" textLength="6.46" lengthAdjust="spacingAndGlyphs">400</text>
<text class="yl" x="750.84" y="345.82" textLength="6.46" lengthAdjust="spacingAndGlyphs">600</text>
<text class="yl" x="750.84" y="332.16" textLength="6.46" lengthAdjust="spacingAndGlyphs">800</text>
<text class="yl" x="748.69" y="318.5" textLength="8.61" lengthAdjust="spacingAndGlyphs">1000</text>
<path fill="#b9b9b9" d="M766.3 384.8V350.56a4.3 4.3 0 0 1 8.6 0V384.8z"/>
<text class="vl" x="770.6" y="344.46">568.6</text>
<text class="xl" x="770.6" y="393">'20년</text>
<path fill="#b9b9b9" d="M776.57 384.8V346.89a4.3 4.3 0 0 1 8.6 0V384.8z"/>
<text class="vl" x="780.87" y="340.79">622.4</text>
<text class="xl" x="780.87" y="393">'21년</text>
<path fill="#b9b9b9" d="M786.84 384.8V342.94a4.3 4.3 0 0 1 8.6 0V384.8z"/>
<text class="vl" x="791.14" y="336.84">680.3</text>
<text class="xl" x="791.14" y="393">'22년</text>
<path fill="#b9b9b9" d="M797.11 384.8V339.34a4.3 4.3 0 0 1 8.6 0V384.8z"/>
<text class="vl" x="801.41" y="333.24">733.0</text>
<text class="xl" x="801.41" y="393">'23년</text>
<path fill="#4598c5" d="M807.38 384.8V336.06a4.3 4.3 0 0 1 8.6 0V384.8z"/>
<text class="vl" x="811.68" y="329.96">781.0</text>
<text class="xl" x="811.68" y="393">'24년</text>
<path fill="#4598c5" d="M817.65 384.8V332.62a4.3 4.3 0 0 1 8.6 0V384.8z"/>
<text class="vl" x="821.95" y="326.52">831.3</text>
<text class="xl" x="821.95" y="393">'25년</text>
<text class="xl" x="821.95" y="397.2">(e)</text>
<path fill="#4598c5" d="M827.92 384.8V327.96a4.3 4.3 0 0 1 8.6 0V384.8z"/>
<text class="vl" x="832.22" y="321.86">899.6</text>
<text class="xl" x="832.22" y="393">'26년</text>
<text class="xl" x="832.22" y="397.2">(e)</text>
</g>
<g>
<text class="ct" x="28.4" y="476">빌보드</text>
<path class="ax" d="M28.4 484.1V553.3"/>
<path class="bx" d="M26.9 553.3H113"/>
<path class="tk" d="M28.4 553.3h2.2M28.4 541.87h2.2M28.4 530.43h2.2M28.4 519h2.2M28.4 507.57h2.2M28.4 496.13h2.2M28.4 484.7h2.2"/>
<text class="yl" x="24.95" y="555" textLength="2.15" lengthAdjust="spacingAndGlyphs">0</text>
<text class="yl" x="22.79" y="543.57" textLength="4.31" lengthAdjust="spacingAndGlyphs">10</text>
<text class="yl" x="22.79" y="532.13" textLength="4.31" lengthAdjust="spacingAndGlyphs">20</text>
<text class="yl" x="22.79" y="520.7" textLength="4.31" lengthAdjust="spacingAndGlyphs">30</text>
<text class="yl" x="22.79" y="509.27" textLength="4.31" lengthAdjust="spacingAndGlyphs">40</text>
<text class="yl" x="22.79" y="497.83" textLength="4.31" lengthAdjust="spacingAndGlyphs">50</text>
<text class="yl" x="22.79" y="486.4" textLength="4.31" lengthAdjust="spacingAndGlyphs">60</text>
<path fill="#b9b9b9" d="M35.75 553V524.51a4.25 4.25 0 0 1 8.5 0V553z"/>
<text class="vl" x="40" y="518.46">28.9</text>
<text class="xl" x="40" y="559">'20년</text>
<path fill="#b9b9b9" d="M46.02 553V517.42a4.25 4.25 0 0 1 8.5 0V553z"/>
<text class="vl" x="50.27" y="511.37">35.1</text>
<text class="xl" x="50.27" y="559">'21년</text>
<path fill="#b9b9b9" d="M56.29 553V512.96a4.25 4.25 0 0 1 8.5 0V553z"/>
<text class="vl" x="60.54" y="506.91">39.0</text>
<text class="xl" x="60.54" y="559">'22년</text>
<path fill="#b9b9b9" d="M66.56 553V509.53a4.25 4.25 0 0 1 8.5 0V553z"/>
<text class="vl" x="70.81" y="503.48">42.0</text>
<text class="xl" x="70.81" y="559">'23년</text>
<path fill="#5563ab" d="M76.83 553V505.64a4.25 4.25 0 0 1 8.5 0V553z"/>
<text class="vl" x="81.08" y="499.59">45.4</text>
<text class="xl" x="81.08" y="559">'24년</text>
<path fill="#5563ab" d="M87.1 553V503.24a4.25 4.25 0 0 1 8.5 0V553z"/>
<text class="vl" x="91.35" y="497.19">47.5</text>
<text class="xl" x="91.35" y="559">'25년</text>
<text class="xl" x="91.35" y="563.2">(e)</text>
<path fill="#5563ab" d="M97.37 553V499.47a4.25 4.25 0 0 1 8.5 0V553z"/>
<text class="vl" x="101.62" y="493.42">50.8</text>
<text class="xl" x="101.62" y="559">'26년</text>
<text class="xl" x="101.62" y="563.2">(e)</text>
</g>
<g>
<text class="ct" x="133.4" y="476">교통</text>
<path class="ax" d="M133.6 484.4V553.3"/>
<path class="bx" d="M132.1 553.3H218"/>
<path class="tk" d="M133.6 553.3h2.2M133.6 539.64h2.2M133.6 525.98h2.2M133.6 512.32h2.2M133.6 498.66h2.2M133.6 485h2.2"/>
<text class="yl" x="130.15" y="555" textLength="2.15" lengthAdjust="spacingAndGlyphs">0</text>
<text class="yl" x="127.99" y="541.34" textLength="4.31" lengthAdjust="spacingAndGlyphs">10</text>
<text class="yl" x="127.99" y="527.68" textLength="4.31" lengthAdjust="spacingAndGlyphs">20</text>
<text class="yl" x="127.99" y="514.02" textLength="4.31" lengthAdjust="spacingAndGlyphs">30</text>
<text class="yl" x="127.99" y="500.36" textLength="4.31" lengthAdjust="spacingAndGlyphs">40</text>
<text class="yl" x="127.99" y="486.7" textLength="4.31" lengthAdjust="spacingAndGlyphs">50</text>
<path fill="#b9b9b9" d="M140.9 553V506.19a4.25 4.25 0 0 1 8.5 0V553z"/>
<text class="vl" x="145.15" y="500.14">37.6</text>
<text class="xl" x="145.15" y="559">'20년</text>
<path fill="#b9b9b9" d="M151.23 553V505.23a4.25 4.25 0 0 1 8.5 0V553z"/>
<text class="vl" x="155.48" y="499.18">38.3</text>
<text class="xl" x="155.48" y="559">'21년</text>
<path fill="#b9b9b9" d="M161.56 553V497.86a4.25 4.25 0 0 1 8.5 0V553z"/>
<text class="vl" x="165.81" y="491.81">43.7</text>
<text class="xl" x="165.81" y="559">'22년</text>
<path fill="#b9b9b9" d="M171.89 553V495.67a4.25 4.25 0 0 1 8.5 0V553z"/>
<text class="vl" x="176.14" y="489.62">45.3</text>
<text class="xl" x="176.14" y="559">'23년</text>
<path fill="#5563ab" d="M182.22 553V495.94a4.25 4.25 0 0 1 8.5 0V553z"/>
<text class="vl" x="186.47" y="489.89">45.1</text>
<text class="xl" x="186.47" y="559">'24년</text>
<path fill="#5563ab" d="M192.55 553V494.85a4.25 4.25 0 0 1 8.5 0V553z"/>
<text class="vl" x="196.8" y="488.8">45.9</text>
<text class="xl" x="196.8" y="559">'25년</text>
<text class="xl" x="196.8" y="563.2">(e)</text>
<path fill="#5563ab" d="M202.88 553V493.35a4.25 4.25 0 0 1 8.5 0V553z"/>
<text class="vl" x="207.13" y="487.3">47.0</text>
<text class="xl" x="207.13" y="559">'26년</text>
<text class="xl" x="207.13" y="563.2">(e)</text>
</g>
<g>
<text class="ct" x="234.8" y="476">엔터테인먼트</text>
<path class="ax" d="M235 484.4V553.3"/>
<path class="bx" d="M233.5 553.3H319.7"/>
<path class="tk" d="M235 553.3h2.2M235 539.64h2.2M235 525.98h2.2M235 512.32h2.2M235 498.66h2.2M235 485h2.2"/>
<text class="yl" x="231.55" y="555" textLength="2.15" lengthAdjust="spacingAndGlyphs">0</text>
<text class="yl" x="231.55" y="541.34" textLength="2.15" lengthAdjust="spacingAndGlyphs">5</text>
<text class="yl" x="229.39" y="527.68" textLength="4.31" lengthAdjust="spacingAndGlyphs">10</text>
<text class="yl" x="229.39" y="514.02" textLength="4.31" lengthAdjust="spacingAndGlyphs">15</text>
<text class="yl" x="229.39" y="500.36" textLength="4.31" lengthAdjust="spacingAndGlyphs">20</text>
<text class="yl" x="229.39" y="486.7" textLength="4.31" lengthAdjust="spacingAndGlyphs">25</text>
<path fill="#b9b9b9" d="M242.1 553V528.32a4.25 4.25 0 0 1 8.5 0V553z"/>
<text class="vl" x="246.35" y="522.27">10.7</text>
<text class="xl" x="246.35" y="559">'20년</text>
<path fill="#b9b9b9" d="M252.42 553V520.12a4.25 4.25 0 0 1 8.5 0V553z"/>
<text class="vl" x="256.67" y="514.07">13.7</text>
<text class="xl" x="256.67" y="559">'21년</text>
<path fill="#b9b9b9" d="M262.74 553V514.93a4.25 4.25 0 0 1 8.5 0V553z"/>
<text class="vl" x="266.99" y="508.88">15.6</text>
<text class="xl" x="266.99" y="559">'22년</text>
<path fill="#b9b9b9" d="M273.06 553V502.64a4.25 4.25 0 0 1 8.5 0V553z"/>
<text class="vl" x="277.31" y="496.59">20.1</text>
<text class="xl" x="277.31" y="559">'23년</text>
<path fill="#5563ab" d="M283.38 553V501.54a4.25 4.25 0 0 1 8.5 0V553z"/>
<text class="vl" x="287.63" y="495.49">20.5</text>
<text class="xl" x="287.63" y="559">'24년</text>
<path fill="#5563ab" d="M293.7 553V505.1a4.25 4.25 0 0 1 8.5 0V553z"/>
<text class="vl" x="297.95" y="499.05">19.2</text>
<text class="xl" x="297.95" y="559">'25년</text>
<text class="xl" x="297.95" y="563.2">(e)</text>
<path fill="#5563ab" d="M304.02 553V505.92a4.25 4.25 0 0 1 8.5 0V553z"/>
<text class="vl" x="308.27" y="499.87">18.9</text>
<text class="xl" x="308.27" y="559">'26년</text>
<text class="xl" x="308.27" y="563.2">(e)</text>
</g>
<g>
<text class="ct" x="338.2" y="476">기타옥외</text>
<path class="ax" d="M338 483.5V553.3"/>
<path class="bx" d="M336.5 553.3H423.3"/>
<path class="tk" d="M338 553.3h2.2M338 536h2.2M338 518.7h2.2M338 501.4h2.2M338 484.1h2.2"/>
<text class="yl" x="334.55" y="555" textLength="2.15" lengthAdjust="spacingAndGlyphs">0</text>
<text class="yl" x="334.55" y="537.7" textLength="2.15" lengthAdjust="spacingAndGlyphs">5</text>
<text class="yl" x="332.39" y="520.4" textLength="4.31" lengthAdjust="spacingAndGlyphs">10</text>
<text class="yl" x="332.39" y="503.1" textLength="4.31" lengthAdjust="spacingAndGlyphs">15</text>
<text class="yl" x="332.39" y="485.8" textLength="4.31" lengthAdjust="spacingAndGlyphs">20</text>
<path fill="#b9b9b9" d="M345.7 553V536.44a4.25 4.25 0 0 1 8.5 0V553z"/>
<text class="vl" x="349.95" y="530.39">6.1</text>
<text class="xl" x="349.95" y="559">'20년</text>
<path fill="#b9b9b9" d="M356 553V537.48a4.25 4.25 0 0 1 8.5 0V553z"/>
<text class="vl" x="360.25" y="531.43">5.8</text>
<text class="xl" x="360.25" y="559">'21년</text>
<path fill="#b9b9b9" d="M366.3 553V530.56a4.25 4.25 0 0 1 8.5 0V553z"/>
<text class="vl" x="370.55" y="524.51">7.8</text>
<text class="xl" x="370.55" y="559">'22년</text>
<path fill="#b9b9b9" d="M376.6 553V508.42a4.25 4.25 0 0 1 8.5 0V553z"/>
<text class="vl" x="380.85" y="502.37">14.2</text>
<text class="xl" x="380.85" y="559">'23년</text>
<path fill="#5563ab" d="M386.9 553V508.07a4.25 4.25 0 0 1 8.5 0V553z"/>
<text class="vl" x="391.15" y="502.02">14.3</text>
<text class="xl" x="391.15" y="559">'24년</text>
<path fill="#5563ab" d="M397.2 553V503.23a4.25 4.25 0 0 1 8.5 0V553z"/>
<text class="vl" x="401.45" y="497.18">15.7</text>
<text class="xl" x="401.45" y="559">'25년</text>
<text class="xl" x="401.45" y="563.2">(e)</text>
<path fill="#5563ab" d="M407.5 553V500.81a4.25 4.25 0 0 1 8.5 0V553z"/>
<text class="vl" x="411.75" y="494.76">16.4</text>
<text class="xl" x="411.75" y="559">'26년</text>
<text class="xl" x="411.75" y="563.2">(e)</text>
</g>
<g>
<text class="ct" x="448" y="476">생활정보</text>
<path class="ax" d="M447.8 483.5V553.3"/>
<path class="bx" d="M446.3 553.3H531.6"/>
<path class="tk" d="M447.8 553.3h2.2M447.8 536h2.2M447.8 518.7h2.2M447.8 501.4h2.2M447.8 484.1h2.2"/>
<text class="yl" x="444.35" y="555" textLength="2.15" lengthAdjust="spacingAndGlyphs">0</text>
<text class="yl" x="444.35" y="537.7" textLength="2.15" lengthAdjust="spacingAndGlyphs">5</text>
<text class="yl" x="442.19" y="520.4" textLength="4.31" lengthAdjust="spacingAndGlyphs">10</text>
<text class="yl" x="442.19" y="503.1" textLength="4.31" lengthAdjust="spacingAndGlyphs">15</text>
<text class="yl" x="442.19" y="485.8" textLength="4.31" lengthAdjust="spacingAndGlyphs">20</text>
<path fill="#b9b9b9" d="M455.4 553V507.73a4.25 4.25 0 0 1 8.5 0V553z"/>
<text class="vl" x="459.65" y="501.68">14.4</text>
<text class="xl" x="459.65" y="559">'20년</text>
<path fill="#b9b9b9" d="M465.7 553V508.76a4.25 4.25 0 0 1 8.5 0V553z"/>
<text class="vl" x="469.95" y="502.71">14.1</text>
<text class="xl" x="469.95" y="559">'21년</text>
<path fill="#b9b9b9" d="M476 553V504.27a4.25 4.25 0 0 1 8.5 0V553z"/>
<text class="vl" x="480.25" y="498.22">15.4</text>
<text class="xl" x="480.25" y="559">'22년</text>
<path fill="#b9b9b9" d="M486.3 553V507.38a4.25 4.25 0 0 1 8.5 0V553z"/>
<text class="vl" x="490.55" y="501.33">14.5</text>
<text class="xl" x="490.55" y="559">'23년</text>
<path fill="#ee8075" d="M496.6 553V509.8a4.25 4.25 0 0 1 8.5 0V553z"/>
<text class="vl" x="500.85" y="503.75">13.8</text>
<text class="xl" x="500.85" y="559">'24년</text>
<path fill="#ee8075" d="M506.9 553V519.14a4.25 4.25 0 0 1 8.5 0V553z"/>
<text class="vl" x="511.15" y="513.09">11.1</text>
<text class="xl" x="511.15" y="559">'25년</text>
<text class="xl" x="511.15" y="563.2">(e)</text>
<path fill="#ee8075" d="M517.2 553V521.22a4.25 4.25 0 0 1 8.5 0V553z"/>
<text class="vl" x="521.45" y="515.17">10.5</text>
<text class="xl" x="521.45" y="559">'26년</text>
<text class="xl" x="521.45" y="563.2">(e)</text>
</g>
<g>
<text class="ct" x="550.2" y="476">취업정보</text>
<path class="ax" d="M550.3 484.1V553.3"/>
<path class="bx" d="M548.8 553.3H634.7"/>
<path class="tk" d="M550.3 553.3h2.2M550.3 541.87h2.2M550.3 530.43h2.2M550.3 519h2.2M550.3 507.57h2.2M550.3 496.13h2.2M550.3 484.7h2.2"/>
<text class="yl" x="546.85" y="555" textLength="2.15" lengthAdjust="spacingAndGlyphs">0</text>
<text class="yl" x="546.85" y="543.57" textLength="2.15" lengthAdjust="spacingAndGlyphs">5</text>
<text class="yl" x="544.69" y="532.13" textLength="4.31" lengthAdjust="spacingAndGlyphs">10</text>
<text class="yl" x="544.69" y="520.7" textLength="4.31" lengthAdjust="spacingAndGlyphs">15</text>
<text class="yl" x="544.69" y="509.27" textLength="4.31" lengthAdjust="spacingAndGlyphs">20</text>
<text class="yl" x="544.69" y="497.83" textLength="4.31" lengthAdjust="spacingAndGlyphs">25</text>
<text class="yl" x="544.69" y="486.4" textLength="4.31" lengthAdjust="spacingAndGlyphs">30</text>
<path fill="#b9b9b9" d="M557.7 553V536.28a4.25 4.25 0 0 1 8.5 0V553z"/>
<text class="vl" x="561.95" y="530.23">9.3</text>
<text class="xl" x="561.95" y="559">'20년</text>
<path fill="#b9b9b9" d="M568.03 553V501.3a4.25 4.25 0 0 1 8.5 0V553z"/>
<text class="vl" x="572.28" y="495.25">24.6</text>
<text class="xl" x="572.28" y="559">'21년</text>
<path fill="#b9b9b9" d="M578.36 553V491.24a4.25 4.25 0 0 1 8.5 0V553z"/>
<text class="vl" x="582.61" y="485.19">29.0</text>
<text class="xl" x="582.61" y="559">'22년</text>
<path fill="#b9b9b9" d="M588.69 553V504.5a4.25 4.25 0 0 1 8.5 0V553z"/>
<text class="vl" x="592.94" y="498.45">23.2</text>
<text class="xl" x="592.94" y="559">'23년</text>
<path fill="#ee8075" d="M599.02 553V500.61a4.25 4.25 0 0 1 8.5 0V553z"/>
<text class="vl" x="603.27" y="494.56">24.9</text>
<text class="xl" x="603.27" y="559">'24년</text>
<path fill="#ee8075" d="M609.35 553V508.62a4.25 4.25 0 0 1 8.5 0V553z"/>
<text class="vl" x="613.6" y="502.57">21.4</text>
<text class="xl" x="613.6" y="559">'25년</text>
<text class="xl" x="613.6" y="563.2">(e)</text>
<path fill="#ee8075" d="M619.68 553V508.84a4.25 4.25 0 0 1 8.5 0V553z"/>
<text class="vl" x="623.93" y="502.79">21.3</text>
<text class="xl" x="623.93" y="559">'26년</text>
<text class="xl" x="623.93" y="563.2">(e)</text>
</g>
<g>
<text class="ct" x="656.2" y="475"><tspan font-size="8.7" letter-spacing="-.45">DM</tspan></text>
<path class="ax" d="M656.9 484.1V553.3"/>
<path class="bx" d="M655.4 553.3H740.6"/>
<path class="tk" d="M656.9 553.3h2.2M656.9 539.58h2.2M656.9 525.86h2.2M656.9 512.14h2.2M656.9 498.42h2.2M656.9 484.7h2.2"/>
<text class="yl" x="653.45" y="555" textLength="2.15" lengthAdjust="spacingAndGlyphs">0</text>
<text class="yl" x="653.45" y="541.28" textLength="2.15" lengthAdjust="spacingAndGlyphs">2</text>
<text class="yl" x="653.45" y="527.56" textLength="2.15" lengthAdjust="spacingAndGlyphs">4</text>
<text class="yl" x="653.45" y="513.84" textLength="2.15" lengthAdjust="spacingAndGlyphs">6</text>
<text class="yl" x="653.45" y="500.12" textLength="2.15" lengthAdjust="spacingAndGlyphs">8</text>
<text class="yl" x="651.29" y="486.4" textLength="4.31" lengthAdjust="spacingAndGlyphs">10</text>
<path fill="#b9b9b9" d="M664.3 553V508.16a4.25 4.25 0 0 1 8.5 0V553z"/>
<text class="vl" x="668.55" y="502.11">7.2</text>
<text class="xl" x="668.55" y="559">'20년</text>
<path fill="#b9b9b9" d="M674.6 553V508.16a4.25 4.25 0 0 1 8.5 0V553z"/>
<text class="vl" x="678.85" y="502.11">7.2</text>
<text class="xl" x="678.85" y="559">'21년</text>
<path fill="#b9b9b9" d="M684.9 553V502.67a4.25 4.25 0 0 1 8.5 0V553z"/>
<text class="vl" x="689.15" y="496.62">8.0</text>
<text class="xl" x="689.15" y="559">'22년</text>
<path fill="#b9b9b9" d="M695.2 553V502.67a4.25 4.25 0 0 1 8.5 0V553z"/>
<text class="vl" x="699.45" y="496.62">8.0</text>
<text class="xl" x="699.45" y="559">'23년</text>
<path fill="#ee8075" d="M705.5 553V497.87a4.25 4.25 0 0 1 8.5 0V553z"/>
<text class="vl" x="709.75" y="491.82">8.7</text>
<text class="xl" x="709.75" y="559">'24년</text>
<path fill="#ee8075" d="M715.8 553V494.44a4.25 4.25 0 0 1 8.5 0V553z"/>
<text class="vl" x="720.05" y="488.39">9.2</text>
<text class="xl" x="720.05" y="559">'25년</text>
<text class="xl" x="720.05" y="563.2">(e)</text>
<path fill="#ee8075" d="M726.1 553V493.07a4.25 4.25 0 0 1 8.5 0V553z"/>
<text class="vl" x="730.35" y="487.02">9.4</text>
<text class="xl" x="730.35" y="559">'26년</text>
<text class="xl" x="730.35" y="563.2">(e)</text>
</g>
<g>
<text class="ct" x="758.3" y="476">방송제작사</text>
<path class="ax" d="M758.4 483.8V553.3"/>
<path class="bx" d="M756.9 553.3H843.7"/>
<path class="tk" d="M758.4 553.3h2.2M758.4 539.52h2.2M758.4 525.74h2.2M758.4 511.96h2.2M758.4 498.18h2.2M758.4 484.4h2.2"/>
<text class="yl" x="754.95" y="555" textLength="2.15" lengthAdjust="spacingAndGlyphs">0</text>
<text class="yl" x="754.95" y="541.22" textLength="2.15" lengthAdjust="spacingAndGlyphs">2</text>
<text class="yl" x="754.95" y="527.44" textLength="2.15" lengthAdjust="spacingAndGlyphs">4</text>
<text class="yl" x="754.95" y="513.66" textLength="2.15" lengthAdjust="spacingAndGlyphs">6</text>
<text class="yl" x="754.95" y="499.88" textLength="2.15" lengthAdjust="spacingAndGlyphs">8</text>
<text class="yl" x="752.79" y="486.1" textLength="4.31" lengthAdjust="spacingAndGlyphs">10</text>
<path fill="#b9b9b9" d="M766.1 553V527.92a4.25 4.25 0 0 1 8.5 0V553z"/>
<text class="vl" x="770.35" y="521.87">4.3</text>
<text class="xl" x="770.35" y="559">'20년</text>
<path fill="#b9b9b9" d="M776.43 553V522.41a4.25 4.25 0 0 1 8.5 0V553z"/>
<text class="vl" x="780.68" y="516.36">5.1</text>
<text class="xl" x="780.68" y="559">'21년</text>
<path fill="#b9b9b9" d="M786.76 553V509.32a4.25 4.25 0 0 1 8.5 0V553z"/>
<text class="vl" x="791.01" y="503.27">7.0</text>
<text class="xl" x="791.01" y="559">'22년</text>
<path fill="#b9b9b9" d="M797.09 553V501.74a4.25 4.25 0 0 1 8.5 0V553z"/>
<text class="vl" x="801.34" y="495.69">8.1</text>
<text class="xl" x="801.34" y="559">'23년</text>
<path fill="#ee8075" d="M807.42 553V497.61a4.25 4.25 0 0 1 8.5 0V553z"/>
<text class="vl" x="811.67" y="491.56">8.7</text>
<text class="xl" x="811.67" y="559">'24년</text>
<path fill="#ee8075" d="M817.75 553V497.61a4.25 4.25 0 0 1 8.5 0V553z"/>
<text class="vl" x="822" y="491.56">8.7</text>
<text class="xl" x="822" y="559">'25년</text>
<text class="xl" x="822" y="563.2">(e)</text>
<path fill="#ee8075" d="M828.08 553V496.23a4.25 4.25 0 0 1 8.5 0V553z"/>
<text class="vl" x="832.33" y="490.18">8.9</text>
<text class="xl" x="832.33" y="559">'26년</text>
<text class="xl" x="832.33" y="563.2">(e)</text>
</g>
</svg>
</body>
</html>
